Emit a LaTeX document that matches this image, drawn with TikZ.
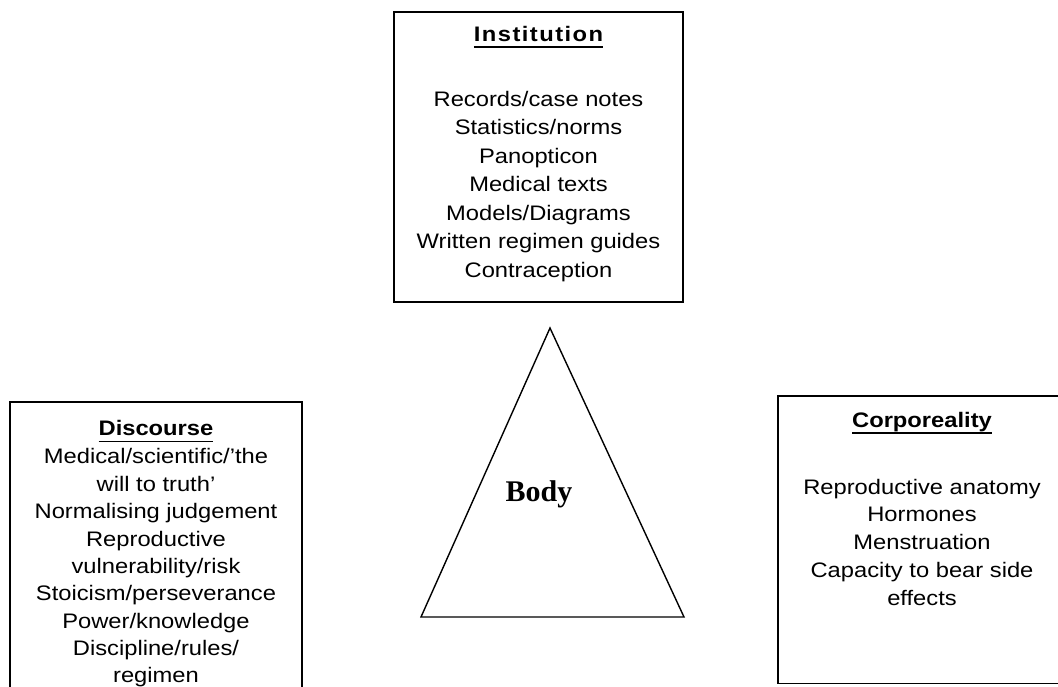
\documentclass[tikz,border=0pt]{standalone}
\usepackage{fontspec}
\setmainfont{Liberation Sans}[FakeStretch=1.13]
\newfontfamily\bodyfont{Liberation Serif}
\usetikzlibrary{positioning}
\tikzstyle{theme}=[draw, line width=1.6pt, inner sep=0]
\tikzstyle{theme text}=[inner sep=0, align=center, font=\fontsize{21}{28.5}\selectfont]
\tikzstyle{body}=[line width=1.4pt, line join=miter]
\tikzstyle{body label}=[inner sep=0, font=\bodyfont\bfseries\fontsize{30}{36}\selectfont]
\newsavebox\themebox
\newcommand{\themehead}[1]{\sbox\themebox{\bfseries #1}\rlap{\rule[-6.8pt]{\wd\themebox}{1.7pt}}\usebox\themebox}

\begin{document}
\begin{tikzpicture}[x=1pt, y=-1pt]
      \useasboundingbox (0, 0) rectangle (1058, 686);
      \clip (0, 0) rectangle (1058, 686);

      \node[theme, minimum width=289pt, minimum height=290pt] (institution) at (538.5, 157) {};
      \node[theme text, below=14.7pt of institution.north] (institution text)
        {\themehead{\addfontfeature{LetterSpace=7}Institution}\\[36.5pt]
         Records/case notes\\ Statistics/norms\\ Panopticon\\ Medical texts\\
         Models/Diagrams\\ Written regimen guides\\ Contraception};

      \node[theme, minimum width=292pt, minimum height=298pt] (discourse) at (156, 551) {};
      \node[theme text, font=\fontsize{21}{27.35}\selectfont, below=19pt of discourse.north] (discourse text)
        {\themehead{Discourse}\\[1pt]
         Medical/scientific/’the\\ will to truth’\\ Normalising judgement\\ Reproductive\\
         vulnerability/risk\\ Stoicism/perseverance\\ Power/knowledge\\ Discipline/rules/\\ regimen};

      \node[theme, minimum width=288pt, minimum height=287.5pt] (corporeality) at (922, 539.75) {};
      \node[theme text, font=\fontsize{21}{27.75}\selectfont, below=16.5pt of corporeality.north] (corporeality text)
        {\themehead{Corporeality}\\[39.3pt]
         Reproductive anatomy\\ Hormones\\ Menstruation\\ Capacity to bear side\\ effects};

      \coordinate (apex) at (550, 328);
      \coordinate (base left) at (421, 617);
      \coordinate (base right) at (684, 617);
      \draw[body] (apex) -- (base left) -- (base right) -- cycle;
      \node[body label, anchor=base] (body) at (539, 501.5) {Body};
    \end{tikzpicture}
\end{document}
